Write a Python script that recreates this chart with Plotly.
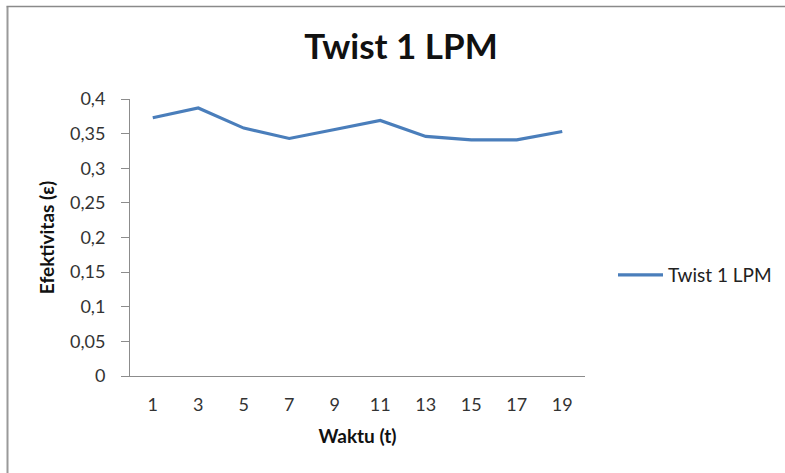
import plotly.graph_objects as go

waktu = ["1", "3", "5", "7", "9", "11", "13", "15", "17", "19"]
efektivitas = [0.373, 0.387, 0.358, 0.343, 0.356, 0.369, 0.346, 0.341, 0.341, 0.353]
series_name = "Twist 1 LPM"

L, R, T, B = 130, 200, 99, 97
W, H = 785, 473
pw, ph = W - L - R, H - T - B

def px(x):
    return (x - L) / pw

def py(y):
    return (H - B - y) / ph

fig = go.Figure()
fig.add_trace(go.Scatter(
    x=waktu, y=efektivitas, mode="lines", name=series_name,
    line=dict(color="#4A7EBB", width=3.2),
))

font_family = "Lato, 'Open Sans', sans-serif"

fig.update_layout(
    width=W, height=H,
    margin=dict(l=L, r=R, t=T, b=B, autoexpand=False),
    paper_bgcolor="white", plot_bgcolor="white",
    separators=", ",
    title=dict(text="<b>Twist 1 LPM</b>", x=401 / W, xref="container", xanchor="center",
               y=1 - 47 / H, yanchor="middle",
               font=dict(family=font_family, size=35, color="#111")),
    showlegend=True,
    legend=dict(xref="container", yref="container", x=613 / W, xanchor="left",
                y=1 - 275 / H, yanchor="middle",
                font=dict(family=font_family, size=19, color="#222"),
                bgcolor="rgba(0,0,0,0)", itemwidth=45),
    xaxis=dict(type="category", range=[-0.5, 9.5], showgrid=False, zeroline=False,
               showline=True, linecolor="#8c8c8c", linewidth=1, ticks="",
               ticklabelstandoff=12,
               tickfont=dict(family=font_family, size=18, color="#333"),
               title=dict(text="<b>Waktu (t)</b>", standoff=16,
                          font=dict(family=font_family, size=19, color="#111"))),
    yaxis=dict(range=[0, 0.4], dtick=0.05, showgrid=False, zeroline=False,
               showline=True, linecolor="#8c8c8c", linewidth=1,
               ticks="outside", ticklen=8, tickcolor="#8c8c8c",
               ticklabelstandoff=12,
               tickfont=dict(family=font_family, size=18, color="#333"),
               title=dict(text="<b>Efektivitas (ε)</b>", standoff=10,
                          font=dict(family=font_family, size=19, color="#111"))),
    shapes=[
        dict(type="line", xref="paper", yref="paper", x0=px(7.5), x1=px(7.5),
             y0=py(6.5), y1=py(475), line=dict(color="#9a9a9a", width=2)),
        dict(type="line", xref="paper", yref="paper", x0=px(6.5), x1=px(790),
             y0=py(6.5), y1=py(6.5), line=dict(color="#8a8a8a", width=1.5)),
    ],
)

fig.write_html("out.html")
